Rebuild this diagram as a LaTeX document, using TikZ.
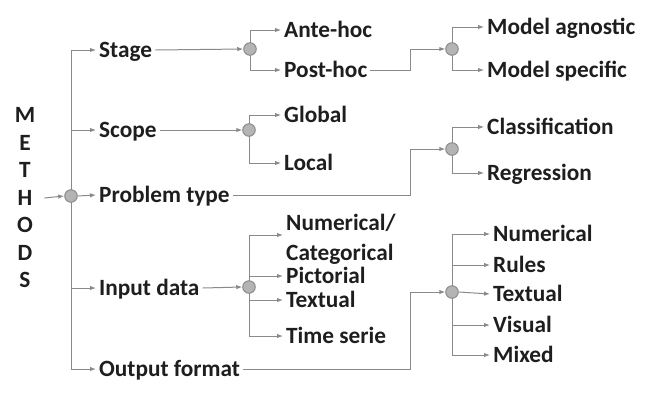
\documentclass[tikz,border=0pt]{standalone}
\usepackage{fontspec}
\setmainfont{Carlito}
\usetikzlibrary{arrows.meta,backgrounds}
\definecolor{linegray}{HTML}{8A8A8A}
\definecolor{dotgray}{HTML}{B4B4B4}
\definecolor{ink}{HTML}{1E1E1E}
\begin{document}
\begin{tikzpicture}[x=1pt,y=-1pt,
  lbl/.style={font=\fontsize{23.3}{30}\selectfont\bfseries, text=ink, anchor=west,
    inner xsep=3pt, inner ysep=0pt, text height=15pt, text depth=0pt},
  two/.style={font=\fontsize{23.3}{30}\selectfont\bfseries, text=ink, anchor=west,
    inner xsep=3pt, inner ysep=0pt, align=left},
  dot/.style={circle, draw=linegray, fill=dotgray, line width=1pt, minimum size=12.5pt, inner sep=0pt},
  link/.style={draw=linegray, line width=1pt},
  arr/.style={link, -{Latex[length=6pt,width=4.5pt]}}
]
\useasboundingbox (0,0) rectangle (672,392);

% vertical title
\node[font=\fontsize{23.3}{27.5}\selectfont\bfseries, text=ink, align=center, inner sep=0pt]
  (methods) at (25,198) {M\\E\\T\\H\\O\\D\\S};

% branching points
\node[dot] (hub) at (71,196) {};
\node[dot] (cstage) at (250,49) {};
\node[dot] (cscope) at (249,130) {};
\node[dot] (cinput) at (249,287) {};
\node[dot] (cpost) at (452,49) {};
\node[dot] (cprob) at (452,149) {};
\node[dot] (cout) at (452,292) {};

% first level
\node[lbl] (stage) at (96,50) {Stage};
\node[lbl] (scope) at (96,130) {Scope};
\node[lbl] (problem) at (96,195) {Problem type};
\node[lbl] (input) at (96,288) {Input data};
\node[lbl] (output) at (96,369) {Output format};

% second level
\node[lbl] (ante) at (281,30) {Ante-hoc};
\node[lbl] (post) at (281,70) {Post-hoc};
\node[lbl] (global) at (281,115) {Global};
\node[lbl] (local) at (281,163) {Local};
\node[two] (numcat) at (283,239) {Numerical/\\Categorical};
\coordinate (numtip) at ([yshift=4pt]numcat.west);
\node[lbl] (pict) at (283,276) {Pictorial};
\node[lbl] (textin) at (283,300) {Textual};
\node[lbl] (time) at (283,336) {Time serie};

% third level
\node[lbl] (agnostic) at (484,27) {Model agnostic};
\node[lbl] (specific) at (484,70) {Model specific};
\node[lbl] (classif) at (484,127) {Classification};
\node[lbl] (regr) at (484,173) {Regression};
\node[lbl] (numout) at (490,234) {Numerical};
\node[lbl] (rules) at (490,265) {Rules};
\node[lbl] (textout) at (490,294) {Textual};
\node[lbl] (visual) at (490,325) {Visual};
\node[lbl] (mixed) at (490,355) {Mixed};

\coordinate (jog) at (410,0);

\begin{scope}[on background layer]
  % root
  \draw[arr] ([xshift=9pt]methods.east) -- (hub.west);
  \draw[link] (hub |- stage.west) -- (hub |- output.west);
  \foreach \n in {stage,scope,input,output}
    \draw[arr] (hub |- \n.west) -- (\n.west);
  \draw[arr] (hub.east) -- (problem.west);

  % stage
  \draw[arr] (stage.east) -- (cstage.west);
  \draw[link] (cstage |- ante.west) -- (cstage |- post.west);
  \foreach \n in {ante,post}
    \draw[arr] (cstage |- \n.west) -- (\n.west);
  \draw[arr] (post.east) -- (post.east -| jog) |- (cpost.west);
  \draw[link] (cpost |- agnostic.west) -- (cpost |- specific.west);
  \foreach \n in {agnostic,specific}
    \draw[arr] (cpost |- \n.west) -- (\n.west);

  % scope
  \draw[arr] (scope.east) -- (cscope.west);
  \draw[link] (cscope |- global.west) -- (cscope |- local.west);
  \foreach \n in {global,local}
    \draw[arr] (cscope |- \n.west) -- (\n.west);

  % problem type
  \draw[arr] (problem.east) -- (problem.east -| jog) |- (cprob.west);
  \draw[link] (cprob |- classif.west) -- (cprob |- regr.west);
  \foreach \n in {classif,regr}
    \draw[arr] (cprob |- \n.west) -- (\n.west);

  % input data
  \draw[arr] (input.east) -- (cinput.west);
  \draw[link] (cinput |- numtip) -- (cinput |- time.west);
  \draw[arr] (cinput |- numtip) -- (numtip);
  \foreach \n in {pict,textin,time}
    \draw[arr] (cinput |- \n.west) -- (\n.west);

  % output format
  \draw[arr] (output.east) -- (output.east -| jog) |- (cout.west);
  \draw[link] (cout |- numout.west) -- (cout |- mixed.west);
  \foreach \n in {numout,rules,visual,mixed}
    \draw[arr] (cout |- \n.west) -- (\n.west);
  \draw[arr] (cout.east) -- (textout.west);
\end{scope}
\end{tikzpicture}
\end{document}
